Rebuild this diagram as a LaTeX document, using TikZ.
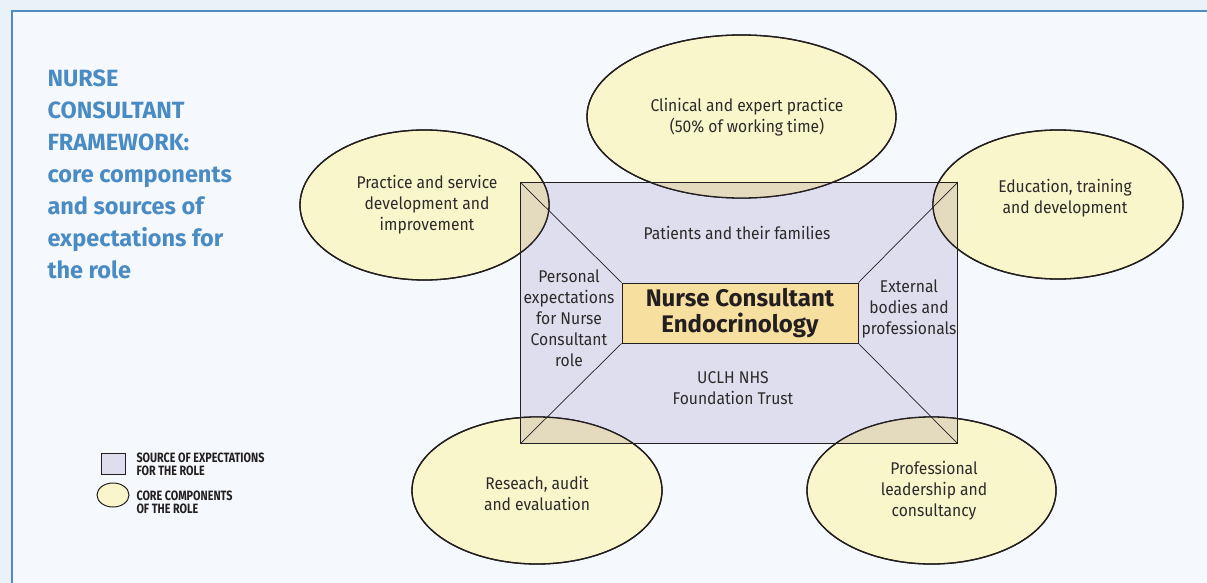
\documentclass[tikz,border=0pt]{standalone}
\usepackage{fontspec}
\setmainfont[FakeStretch=0.92]{Fira Sans}
\newfontfamily\titlefont{Fira Sans}
\newfontfamily\legendfont[FakeStretch=0.8]{Fira Sans}
\usetikzlibrary{shapes.geometric}

\definecolor{pagebg}{RGB}{233,241,249}
\definecolor{panelbg}{RGB}{245,249,253}
\definecolor{frameblue}{RGB}{78,140,196}
\definecolor{titleblue}{RGB}{74,139,196}
\definecolor{srcfill}{RGB}{223,222,239}
\definecolor{compfill}{RGB}{250,246,204}
\definecolor{overlap}{RGB}{228,219,190}
\definecolor{corefill}{RGB}{247,223,160}
\definecolor{outline}{RGB}{35,31,32}
\definecolor{txt}{RGB}{45,42,42}

\tikzset{
  comp/.style={ellipse, fill=compfill, draw=outline, line width=1.3pt, inner sep=0pt,
    align=center, text=txt, font=\fontsize{17}{21}\selectfont},
  srcbox/.style={rectangle, fill=srcfill, inner sep=0pt},
  corebox/.style={rectangle, fill=corefill, draw=outline, line width=1pt, inner sep=0pt,
    align=center, text=outline, font=\titlefont\bfseries\fontsize{24}{26}\selectfont},
  srctext/.style={align=center, text=txt, font=\fontsize{17}{21}\selectfont},
  legendtext/.style={anchor=west, align=left, text=outline,
    font=\legendfont\bfseries\fontsize{13.5}{13}\selectfont},
  edge/.style={draw=outline, line width=1.3pt},
  diag/.style={draw=outline, line width=0.7pt}
}

\begin{document}
\begin{tikzpicture}[x=1pt,y=-1pt]
\useasboundingbox (0,0) rectangle (1207,583);

% background and frame
\fill [pagebg] (0,0) rectangle (1207,583);
\fill [panelbg] (12,11) rectangle (1215,590);
\draw [frameblue, line width=2.6pt] (12,600) -- (12,11) -- (1220,11);

% title
\node [anchor=north west, align=left, text=titleblue,
  font=\titlefont\bfseries\fontsize{23.5}{32}\selectfont] (title) at (44,66)
  {NURSE\\CONSULTANT\\FRAMEWORK:\\core components\\and sources of\\expectations for\\the role};

% source of expectations
\node [srcbox, minimum width=436pt, minimum height=260pt] (src) at (739,313) {};

% core components
\node [comp, minimum width=309pt, minimum height=163pt] (clinical) at (741.5,116.5) {};
\node [comp, minimum width=249pt, minimum height=150pt] (practice) at (424.5,205) {};
\node [comp, minimum width=250pt, minimum height=149pt] (education) at (1058,204.5) {};
\node [comp, minimum width=250pt, minimum height=147pt] (research) at (537,490.5) {};
\node [comp, minimum width=249pt, minimum height=147pt] (leadership) at (931.5,490.5) {};

% overlaps
\begin{scope}
\clip (src.north west) rectangle (src.south east);
\fill [overlap] (clinical.center) ellipse [x radius=154.5, y radius=81.5];
\fill [overlap] (practice.center) ellipse [x radius=124.5, y radius=75];
\fill [overlap] (education.center) ellipse [x radius=125, y radius=74.5];
\fill [overlap] (research.center) ellipse [x radius=125, y radius=73.5];
\fill [overlap] (leadership.center) ellipse [x radius=124.5, y radius=73.5];
\end{scope}
\draw [edge] (clinical.center) ellipse [x radius=154.5, y radius=81.5];
\draw [edge] (practice.center) ellipse [x radius=124.5, y radius=75];
\draw [edge] (education.center) ellipse [x radius=125, y radius=74.5];
\draw [edge] (research.center) ellipse [x radius=125, y radius=73.5];
\draw [edge] (leadership.center) ellipse [x radius=124.5, y radius=73.5];

\draw [edge] (src.north west) rectangle (src.south east);

% centre
\node [corebox, minimum width=236pt, minimum height=60pt] (core) at (740,313)
  {Nurse Consultant\\Endocrinology};
\draw [diag] (src.north west) -- (core.north west);
\draw [diag] (src.north east) -- (core.north east);
\draw [diag] (src.south west) -- (core.south west);
\draw [diag] (src.south east) -- (core.south east);

% texts
\node [srctext] (patients) at (737,233) {Patients and their families};
\node [srctext] (personal) at (569,318) {Personal\\expectations\\for Nurse\\Consultant\\role};
\node [srctext] (external) at (909,309) {External\\bodies and\\professionals};
\node [srctext] (trust) at (733,388) {UCLH NHS\\Foundation Trust};

\node [srctext] (clinicaltext) at (747,117) {Clinical and expert practice\\(50\% of working time)};
\node [srctext] (practicetext) at (427,205) {Practice and service\\development and\\improvement};
\node [srctext] (educationtext) at (1065,198) {Education, training\\and development};
\node [srctext] (researchtext) at (537,493) {Reseach, audit\\and evaluation};
\node [srctext] (leadershiptext) at (934,491) {Professional\\leadership and\\consultancy};

% legend
\node [srcbox, draw=outline, line width=1pt, minimum width=24pt, minimum height=21pt] (keysrc) at (113,463.5) {};
\node [comp, line width=1pt, minimum width=32pt, minimum height=24pt] (keycomp) at (113,495) {};
\node [legendtext] (keysrctext) at (133,464.5) {SOURCE OF EXPECTATIONS\\FOR THE ROLE};
\node [legendtext] (keycomptext) at (133,502) {CORE COMPONENTS\\OF THE ROLE};
\end{tikzpicture}
\end{document}
